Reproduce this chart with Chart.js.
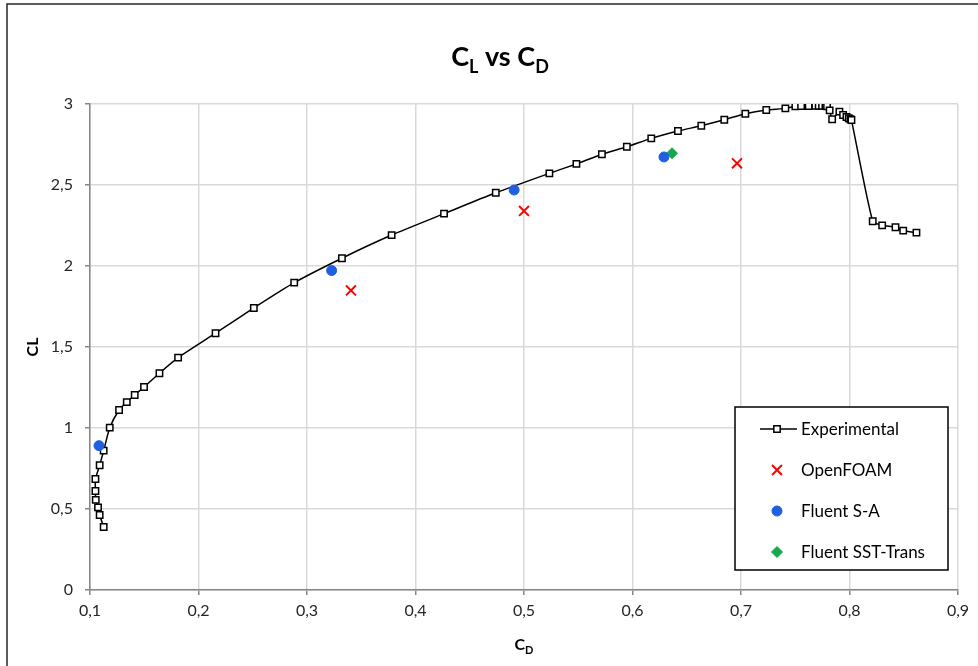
<!DOCTYPE html>
<html>
<head>
<meta charset="utf-8">
<script src="https://cdn.jsdelivr.net/npm/chart.js@4/dist/chart.umd.min.js"></script>
<style>
  html, body { margin: 0; padding: 0; background: #fff; }
  #wrap { width: 978px; height: 666px; position: relative; }
</style>
</head>
<body>
<div id="wrap"><canvas id="polarChart"></canvas></div>
<script>
// lift/drag polar - wind tunnel data
let expCd = [0.1126, 0.1089, 0.1074, 0.1053, 0.1050, 0.1050, 0.1089, 0.1126, 0.1182, 0.1268,
  0.1339, 0.1412, 0.1498, 0.1640, 0.1812, 0.2157, 0.2510, 0.2882, 0.3322, 0.3780,
  0.4263, 0.4740, 0.5234, 0.5483, 0.5718, 0.5948, 0.6173, 0.6419, 0.6634, 0.6846,
  0.7040, 0.7233, 0.7409, 0.7501, 0.7554, 0.7624, 0.7685, 0.7716, 0.7747, 0.7778,
  0.7793, 0.7817, 0.7840, 0.7907, 0.7941, 0.7972, 0.7993, 0.8009, 0.8018, 0.8214,
  0.8301, 0.8424, 0.8495, 0.8617];
let expCl = [0.389, 0.463, 0.510, 0.556, 0.611, 0.685, 0.770, 0.860, 1.002, 1.111,
  1.160, 1.204, 1.253, 1.338, 1.434, 1.585, 1.741, 1.897, 2.048, 2.191,
  2.323, 2.452, 2.572, 2.630, 2.690, 2.736, 2.788, 2.833, 2.866, 2.903,
  2.940, 2.963, 2.973, 2.986, 2.988, 2.988, 2.989, 2.989, 2.989, 2.988,
  2.986, 2.961, 2.906, 2.953, 2.932, 2.920, 2.912, 2.906, 2.901, 2.276,
  2.251, 2.239, 2.218, 2.206];

// CFD results
let foamCd = [0.3405, 0.5000, 0.6963];
let foamCl = [1.849, 2.340, 2.634];
let saCd = [0.1083, 0.3227, 0.4909, 0.6290];
let saCl = [0.891, 1.972, 2.469, 2.673];
let sstCd = [0.6364];
let sstCl = [2.696];

let seriesNames = ['Experimental', 'OpenFOAM', 'Fluent S-A', 'Fluent SST-Trans'];

// axis ranges
let xTicks = [0.1, 0.2, 0.3, 0.4, 0.5, 0.6, 0.7, 0.8, 0.9];
let yTicks = [0, 0.5, 1, 1.5, 2, 2.5, 3];

const FONT = 'Lato, "Open Sans", sans-serif';

function pts(xs, ys) {
  return xs.map((x, i) => ({ x: x, y: ys[i] }));
}

function comma(v) {
  return String(Math.round(v * 10) / 10).replace('.', ',');
}

// text with subscripts: runs of [text, isSub]
function drawRuns(ctx, runs, cx, base, size) {
  const subSize = Math.round(size * 0.68);
  let total = 0;
  runs.forEach(r => {
    ctx.font = 'bold ' + (r[1] ? subSize : size) + 'px ' + FONT;
    total += ctx.measureText(r[0]).width;
  });
  let x = cx - total / 2;
  ctx.textAlign = 'left';
  ctx.textBaseline = 'alphabetic';
  runs.forEach(r => {
    ctx.font = 'bold ' + (r[1] ? subSize : size) + 'px ' + FONT;
    ctx.fillText(r[0], x, base + (r[1] ? size * 0.25 : 0));
    x += ctx.measureText(r[0]).width;
  });
}

function drawMarker(ctx, style, x, y, r) {
  ctx.beginPath();
  if (style === 'rect') {
    const s = r * Math.SQRT1_2;
    ctx.rect(x - s, y - s, 2 * s, 2 * s);
    ctx.fill(); ctx.stroke();
  } else if (style === 'circle') {
    ctx.arc(x, y, r, 0, Math.PI * 2);
    ctx.fill(); ctx.stroke();
  } else if (style === 'rectRot') {
    ctx.moveTo(x, y - r); ctx.lineTo(x + r, y); ctx.lineTo(x, y + r); ctx.lineTo(x - r, y);
    ctx.closePath();
    ctx.fill(); ctx.stroke();
  } else if (style === 'crossRot') {
    const s = r * Math.SQRT1_2;
    ctx.moveTo(x - s, y - s); ctx.lineTo(x + s, y + s);
    ctx.moveTo(x + s, y - s); ctx.lineTo(x - s, y + s);
    ctx.stroke();
  }
}

const decorations = {
  id: 'decorations',
  beforeDraw(chart) {
    const ctx = chart.ctx;
    ctx.save();
    ctx.strokeStyle = '#262626';
    ctx.lineWidth = 1.5;
    ctx.strokeRect(7, 4, chart.width + 20, chart.height + 20);
    ctx.restore();
  },
  afterDraw(chart) {
    const ctx = chart.ctx;
    const a = chart.chartArea;
    ctx.save();
    ctx.fillStyle = '#000';

    // chart title
    drawRuns(ctx, [['C', false], ['L', true], [' vs C', false], ['D', true]], chart.width / 2 + 11, 66, 27);

    // x axis title
    drawRuns(ctx, [['C', false], ['D', true]], (a.left + a.right) / 2, 650, 16);

    // y axis title
    ctx.save();
    ctx.translate(33, (a.top + a.bottom) / 2);
    ctx.rotate(-Math.PI / 2);
    ctx.font = 'bold 16px ' + FONT;
    ctx.textAlign = 'center';
    ctx.textBaseline = 'middle';
    ctx.fillText('CL', 0, 0);
    ctx.restore();

    // legend box
    const right = a.right - 10, bottom = a.bottom - 20;
    const left = right - 213, top = bottom - 163;
    ctx.fillStyle = '#fff';
    ctx.fillRect(left, top, right - left, bottom - top);
    ctx.strokeStyle = '#000';
    ctx.lineWidth = 1.5;
    ctx.strokeRect(left, top, right - left, bottom - top);

    chart.data.datasets.forEach((ds, i) => {
      const y = top + 22 + i * 41;
      const mx = left + 42;
      if (ds.showLine) {
        ctx.strokeStyle = ds.borderColor;
        ctx.lineWidth = ds.borderWidth;
        ctx.beginPath();
        ctx.moveTo(left + 25, y);
        ctx.lineTo(left + 62, y);
        ctx.stroke();
      }
      ctx.fillStyle = ds.pointBackgroundColor;
      ctx.strokeStyle = ds.pointBorderColor;
      ctx.lineWidth = ds.pointBorderWidth;
      drawMarker(ctx, ds.pointStyle, mx, y, ds.pointRadius);
      ctx.fillStyle = '#000';
      ctx.font = '17px ' + FONT;
      ctx.textAlign = 'left';
      ctx.textBaseline = 'middle';
      ctx.fillText(ds.label, left + 66, y + 1);
    });
    ctx.restore();
  }
};

new Chart(document.getElementById('polarChart'), {
  type: 'scatter',
  data: {
    datasets: [
      {
        label: seriesNames[0],
        data: pts(expCd, expCl),
        showLine: true,
        tension: 0.2,
        borderColor: '#000',
        borderWidth: 1.5,
        pointStyle: 'rect',
        pointRadius: 4.5,
        pointBackgroundColor: '#fff',
        pointBorderColor: '#000',
        pointBorderWidth: 1.5,
        order: 2
      },
      {
        label: seriesNames[1],
        data: pts(foamCd, foamCl),
        showLine: false,
        pointStyle: 'crossRot',
        pointRadius: 7,
        pointBackgroundColor: '#ff0000',
        pointBorderColor: '#ff0000',
        pointBorderWidth: 2,
        order: 1
      },
      {
        label: seriesNames[2],
        data: pts(saCd, saCl),
        showLine: false,
        pointStyle: 'circle',
        pointRadius: 5,
        pointBackgroundColor: '#1f5fe0',
        pointBorderColor: '#1f5fe0',
        pointBorderWidth: 1,
        order: 1
      },
      {
        label: seriesNames[3],
        data: pts(sstCd, sstCl),
        showLine: false,
        pointStyle: 'rectRot',
        pointRadius: 5.5,
        pointBackgroundColor: '#16a84c',
        pointBorderColor: '#16a84c',
        pointBorderWidth: 1,
        order: 1
      }
    ]
  },
  options: {
    responsive: true,
    maintainAspectRatio: false,
    animation: false,
    events: [],
    layout: { padding: { top: 104, right: 20, left: 0, bottom: 0 } },
    plugins: {
      legend: { display: false },
      tooltip: { enabled: false },
      title: { display: false }
    },
    scales: {
      x: {
        type: 'linear',
        min: xTicks[0],
        max: xTicks[xTicks.length - 1],
        afterFit: s => { s.height = 76; },
        afterBuildTicks: s => { s.ticks = xTicks.map(v => ({ value: v })); },
        ticks: {
          callback: v => comma(v),
          color: '#262626',
          font: { family: FONT, size: 16 },
          padding: 6,
          maxRotation: 0
        },
        grid: { color: '#d9d9d9', lineWidth: 1.5, tickColor: '#868686', tickLength: 5 },
        border: { color: '#868686', width: 1.5 }
      },
      y: {
        type: 'linear',
        min: yTicks[0],
        max: yTicks[yTicks.length - 1],
        afterFit: s => { s.width = 90; },
        afterBuildTicks: s => { s.ticks = yTicks.map(v => ({ value: v })); },
        ticks: {
          callback: v => comma(v),
          color: '#262626',
          font: { family: FONT, size: 16 },
          padding: 12
        },
        grid: { color: '#d9d9d9', lineWidth: 1.5, tickColor: '#868686', tickLength: 5 },
        border: { color: '#868686', width: 1.5 }
      }
    }
  },
  plugins: [decorations]
});
</script>
</body>
</html>
